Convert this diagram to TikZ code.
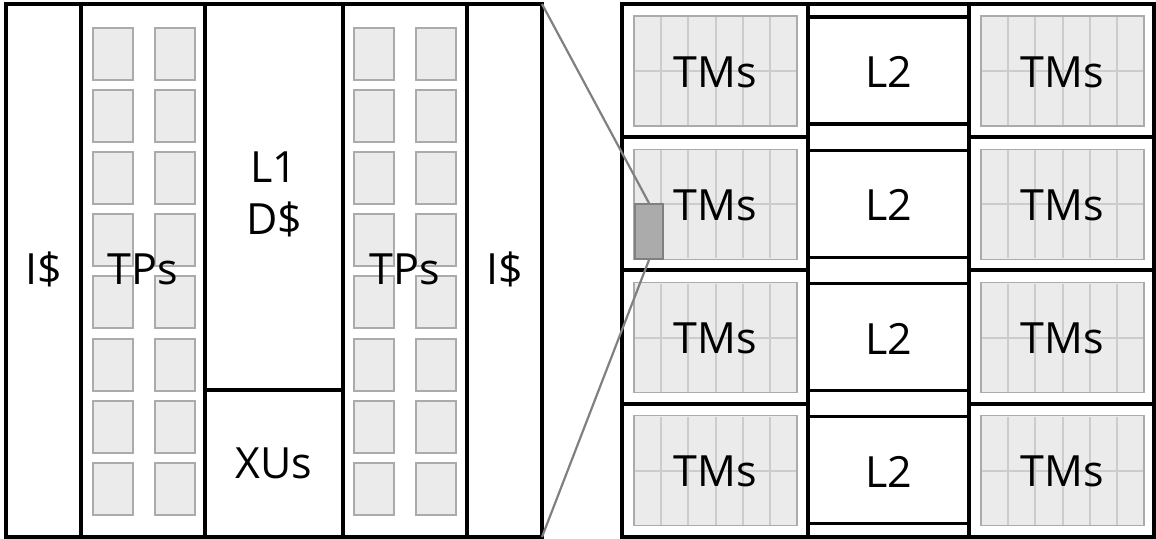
\documentclass[tikz,border=0pt]{standalone}
\usepackage{fontspec}
\setmainfont{Open Sans}
\usetikzlibrary{positioning}
\tikzset{
  blk/.style={draw=black, line width=3.2pt},
  frame/.style={blk, inner sep=0pt, outer sep=0pt, anchor=north west},
  lbl/.style={font=\fontsize{43}{52}\selectfont, align=center, inner sep=0pt},
  tpsq/.style={draw=black!33, fill=black!8, line width=2pt},
  tmcell/.style={draw=black!33, fill=black!8, line width=1.4pt},
  tmgrid/.style={draw=black!20, line width=2pt},
  zoomline/.style={draw=black!50, line width=2.2pt},
  zoombox/.style={draw=black!50, fill=black!33, line width=1.8pt,
    minimum width=28pt, minimum height=55pt, inner sep=0pt}
}

\begin{document}
\begin{tikzpicture}[x=1pt, y=-1pt]
  \useasboundingbox (0,0) rectangle (1156,538);

  % core
  \node[frame, minimum width=536pt, minimum height=533pt] (core) at (6,4) {};
  \foreach \x in {81,205,343,467} \draw[blk] (\x,4) -- (\x,537);
  \draw[blk] (205,390) -- (343,390);
  \foreach \x in {93,155,354,416}
    \foreach \r in {0,...,7}
      \draw[tpsq] (\x,{28+62.1*\r}) rectangle ++(40,52);

  \node[lbl] (icache1) at (43.5,269) {I\$};
  \node[lbl] (tps1) at (143,269) {TPs};
  \node[lbl] (l1d) at (274,194) {L1\\D\$};
  \node[lbl] (xus) at (274,463.5) {XUs};
  \node[lbl] (tps2) at (405,269) {TPs};
  \node[lbl] (icache2) at (504.5,269) {I\$};

  % chip
  \node[frame, minimum width=532pt, minimum height=533pt] (chip) at (622,4) {};
  \draw[blk] (808,4) -- (808,537) (969,4) -- (969,537);
  \foreach \y in {137,270,404}
    \draw[blk] (622,\y) -- (808,\y) (969,\y) -- (1154,\y);
  \foreach \r in {0,...,3} {
    \pgfmathsetmacro\yy{4+133.25*\r}
    \foreach \x/\s in {622/a,969/b} {
      \draw[tmcell] (\x+12,\yy+12) rectangle (\x+175,\yy+122);
      \foreach \k in {1,...,5}
        \draw[tmgrid] ({\x+12+163/6*\k},\yy+13) -- ({\x+12+163/6*\k},\yy+121);
      \draw[tmgrid] (\x+13,\yy+67) -- (\x+174,\yy+67);
      \node[lbl] (tm-\r\s) at (\x+93.5,\yy+68) {TMs};
    }
    \draw[blk] (808,\yy+13) rectangle (969,\yy+120);
    \node[lbl] (l2-\r) at (888.5,\yy+68) {L2};
  }

  \node[zoombox] (tpzoom) at (649,231.5) {};
  \draw[zoomline] (core.north east) -- (tpzoom.north);
  \draw[zoomline] (core.south east) -- (tpzoom.south);
\end{tikzpicture}
\end{document}
